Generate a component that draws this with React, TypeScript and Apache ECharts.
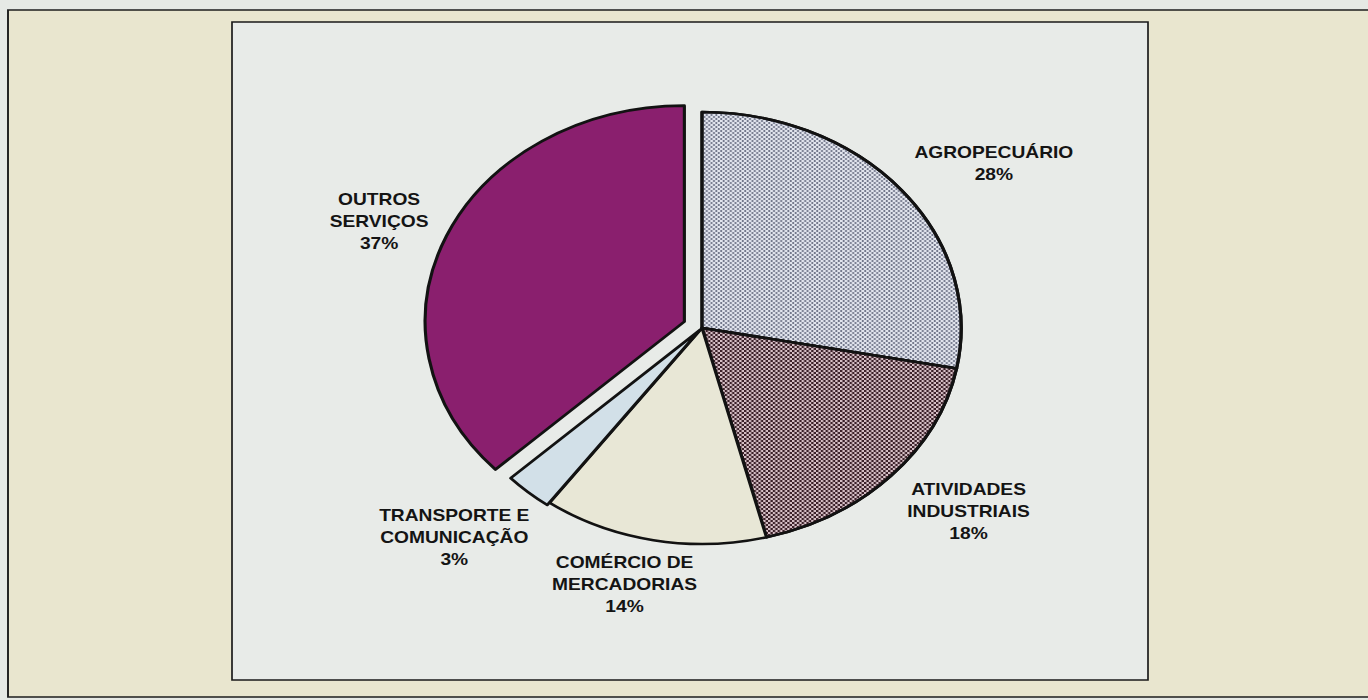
import React, { useEffect, useRef } from "react";
import * as echarts from "echarts";

// Data
const categories = [
  "AGROPECUÁRIO",
  "ATIVIDADES\nINDUSTRIAIS",
  "COMÉRCIO DE\nMERCADORIAS",
  "TRANSPORTE E\nCOMUNICAÇÃO",
  "OUTROS\nSERVIÇOS",
];
const shares = [28, 18, 14, 3, 37];

// Styles
const sliceColors = ["#e2e5ee", "#d6bfc6", "#e8e7d6", "#d2e0e8", "#8a1f6e"];
const STRETCH = 1.2; // scanned page is stretched horizontally
const W = 1368 / STRETCH;
const H = 700;
const CX = 585;
const CY = 328;
const R = 216;

export default function App() {
  const ref = useRef<HTMLDivElement>(null);
  useEffect(() => {
    if (!ref.current) return;
    const chart = echarts.init(ref.current, undefined, { renderer: "svg" });
    const transparent = "rgba(0,0,0,0)";
    const decals: any[] = [
      { symbol: "rect", symbolSize: 0.75, color: "#454b63", dashArrayX: [[2, 2], [0, 2, 2, 0]], dashArrayY: [2, 0] },
      { symbol: "rect", symbolSize: 1, color: "#3a1f28", dashArrayX: [[2, 2], [0, 2, 2, 0]], dashArrayY: [2, 0] },
      null,
      null,
      null,
    ];
    const labelNudge = [
      [19, 21],
      [10, -16],
      [-10, -29],
      [-14, -9],
      [-2, 9],
    ];
    const base = {
      type: "pie",
      center: [CX, CY],
      startAngle: 90,
      clockwise: true,
      silent: true,
      emphasis: { disabled: true },
      label: { show: false },
      labelLine: { show: false },
    };
    const mainData = categories.map((name, i) => ({
      name,
      value: shares[i],
      selected: i === 4,
      itemStyle:
        i === 3
          ? { color: transparent, borderWidth: 0 }
          : {
              color: sliceColors[i],
              borderColor: "#121212",
              borderWidth: 2.6,
              ...(decals[i] ? { decal: decals[i] } : {}),
            },
    }));
    const smallData = categories.map((name, i) => ({
      name,
      value: shares[i],
      selected: i === 3,
      itemStyle:
        i === 3
          ? { color: sliceColors[i], borderColor: "#121212", borderWidth: 2.6 }
          : { color: transparent, borderWidth: 0 },
    }));
    const labelData = categories.map((name, i) => ({
      name,
      value: shares[i],
      itemStyle: { color: transparent, borderWidth: 0 },
    }));
    chart.setOption({
      animation: false,
      graphic: [
        { type: "rect", z: -10, silent: true, shape: { x: 0, y: 0, width: W, height: H }, style: { fill: "#e6e9e5" } },
        {
          type: "rect",
          z: -9,
          silent: true,
          shape: { x: 8 / STRETCH, y: 10, width: W + 20, height: 687 },
          style: { fill: "#e9e6cf", stroke: "#1e1e1e", lineWidth: 1.6 },
        },
        {
          type: "rect",
          z: -8,
          silent: true,
          shape: { x: 232 / STRETCH, y: 22, width: (1148 - 232) / STRETCH, height: 658 },
          style: { fill: "#e8ebe8", stroke: "#1a1a1a", lineWidth: 1.4 },
        },
      ],
      series: [
        {
          ...base,
          name: "main",
          radius: R,
          selectedMode: "single",
          selectedOffset: 16,
          data: mainData,
        },
        {
          ...base,
          name: "transport",
          radius: R,
          selectedMode: "single",
          selectedOffset: 3,
          data: smallData,
        },
        {
          ...base,
          name: "labels",
          radius: [276, 300],
          selectedMode: false,
          label: {
            show: true,
            position: "inside",
            formatter: "{b}\n{c}%",
            color: "#141414",
            fontFamily: "'Liberation Sans', Arial, sans-serif",
            fontWeight: "bold",
            fontSize: 16,
            lineHeight: 22,
            align: "center",
          },
          labelLayout: (params: any) => ({
            dx: labelNudge[params.dataIndex][0],
            dy: labelNudge[params.dataIndex][1],
          }),
          data: labelData,
        },
      ],
    });
    return () => chart.dispose();
  }, []);
  return (
    <div
      ref={ref}
      style={{
        position: "absolute",
        left: 0,
        top: 0,
        width: W,
        height: H,
        transform: `scaleX(${STRETCH})`,
        transformOrigin: "0 0",
      }}
    />
  );
}
